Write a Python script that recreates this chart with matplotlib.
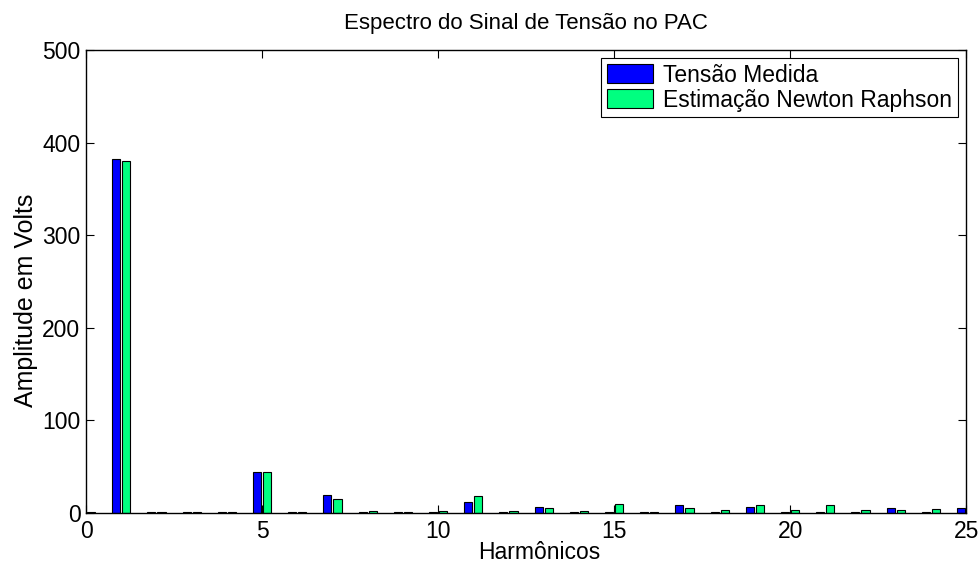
import matplotlib.pyplot as plt
import numpy as np

plt.rcParams["font.family"] = ["Liberation Sans", "DejaVu Sans"]

# harmonic orders 0..25
harmonics = list(range(0, 26))

# amplitude of the measured voltage (V)
tensao_medida = [0.2, 382, 1.0, 1.0, 0.5, 44, 1.0, 19, 0.5, 1.0, 1.0,
                 11.7, 1.0, 6.3, 0.3, 0.5, 1.0, 7.8, 0.3, 6.0, 0.5,
                 0.5, 0.3, 4.9, 0.5, 5.4]

# amplitude estimated by Newton-Raphson (V)
estimacao_nr = [0.5, 380, 0.3, 0.8, 0.5, 44, 0.3, 15, 1.5, 0.5, 1.5,
                18, 1.8, 5.6, 2.2, 9.2, 0.5, 5.2, 2.7, 7.8, 2.5,
                8.5, 2.7, 2.7, 3.5, 0.0]

x = np.array(harmonics)
offset = 0.143
width = 0.229

fig = plt.figure(figsize=(9.8, 5.66), dpi=100)
ax = fig.add_axes([0.0878, 0.0942, 0.898, 0.8175])

ax.bar(x - offset, tensao_medida, width, color="#0000FF", edgecolor="black",
       linewidth=0.8, label="Tensão Medida")
ax.bar(x + offset, estimacao_nr, width, color="#00FF80", edgecolor="black",
       linewidth=0.8, label="Estimação Newton Raphson")

ax.set_xlim(0, 25)
ax.set_ylim(0, 500)
ax.set_xticks([0, 5, 10, 15, 20, 25])
ax.set_yticks([0, 100, 200, 300, 400, 500])
ax.tick_params(direction="in", length=6, width=0.8, labelsize=16.5,
               top=True, right=True)
ax.tick_params(axis="x", pad=5.5)
ax.tick_params(axis="y", pad=4)
for s in ax.spines.values():
    s.set_linewidth(1.0)

ax.set_title("Espectro do Sinal de Tensão no PAC", fontsize=16, pad=15)
ax.set_xlabel("Harmônicos", fontsize=16.5, labelpad=-2)
ax.xaxis.label.set_x(0.515)
ax.set_ylabel("Amplitude em Volts", fontsize=18, labelpad=3)
ax.yaxis.label.set_y(0.46)

leg = ax.legend(loc="upper right", fontsize=16.5, frameon=True, fancybox=False,
                framealpha=1, edgecolor="black", handlelength=2.05,
                handleheight=0.9, handletextpad=0.43, labelspacing=0.08,
                borderpad=0.25, borderaxespad=0.35)
leg.get_frame().set_linewidth(0.8)

fig.savefig("out.png", dpi=100)
